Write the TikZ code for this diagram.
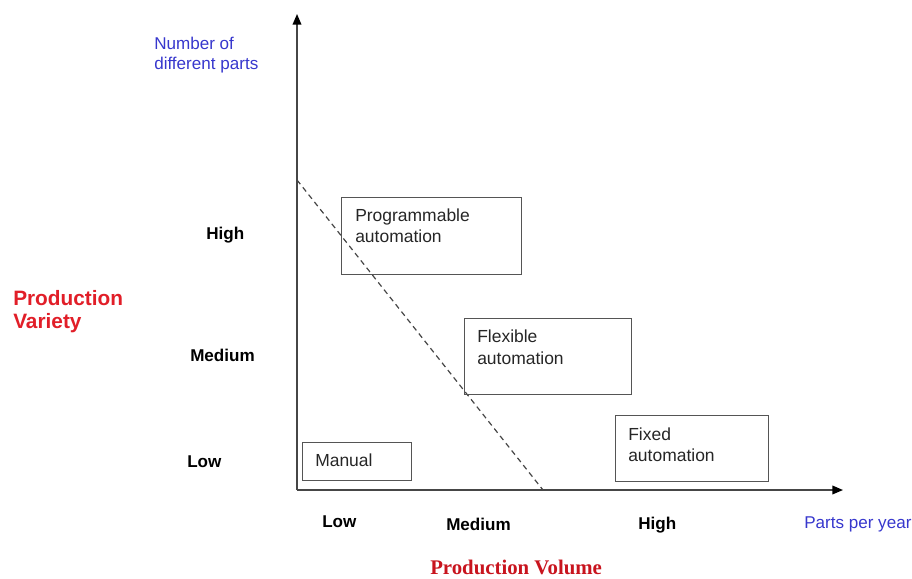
\documentclass[tikz,border=0pt]{standalone}
\usepackage{fontspec}
\setmainfont{Liberation Sans}
\newfontfamily\serifbold{Liberation Serif}
\usetikzlibrary{arrows.meta}
\definecolor{axisgray}{RGB}{70,70,70}
\definecolor{boxgray}{RGB}{85,85,85}
\definecolor{labelblue}{RGB}{55,55,205}
\definecolor{varred}{RGB}{225,30,40}
\definecolor{volred}{RGB}{200,20,30}
\tikzset{
  box/.style={draw=boxgray, line width=0.9pt, inner sep=0pt, anchor=north west},
  boxtext/.style={anchor=north west, inner sep=0pt, align=left, text=black!85,
    font=\fontsize{13.1}{16.1}\selectfont},
  levellab/.style={anchor=base west, inner sep=0pt, font=\bfseries\fontsize{12.8}{15}\selectfont},
  bluelab/.style={anchor=north west, inner sep=0pt, align=left, text=labelblue,
    font=\fontsize{12.8}{15}\selectfont},
  axisline/.style={draw=axisgray, line width=1.1pt, -{Triangle[length=8pt,width=6.5pt,color=black]}},
}
\begin{document}
\begin{tikzpicture}[x=0.75pt,y=-0.75pt]
\useasboundingbox (0,0) rectangle (912,578);
% axes
\coordinate (origin) at (297,490);
\coordinate (ytip) at (297,14);
\coordinate (xtip) at (843,490);
\draw[axisline] (origin) -- (ytip);
\draw[axisline] (origin) -- (xtip);
% dashed boundary
\coordinate (dtop) at (297,180);
\coordinate (dbot) at (543,490);
\draw[axisgray, line width=0.9pt, dash pattern=on 4pt off 3pt] (dtop) -- (dbot);
% boxes
\node[box, minimum width=135pt, minimum height=57.75pt] (prog) at (341,197) {};
\node[box, minimum width=125.25pt, minimum height=57pt] (flex) at (464,318) {};
\node[box, minimum width=114.75pt, minimum height=49.5pt] (fixed) at (615,415) {};
\node[box, minimum width=81.75pt, minimum height=28.5pt] (manual) at (302,442) {};
\node[boxtext] (progt) at (355,208.5) {Programmable\\automation};
\node[boxtext] (flext) at (477,330) {Flexible\\automation};
\node[boxtext] (fixedt) at (628,427.5) {Fixed\\automation};
\node[boxtext] (manualt) at (315,453.5) {Manual};
% y axis labels
\node[bluelab] (ylab) at (154,37) {Number of\\different parts};
\node[anchor=north west, inner sep=0pt, align=left, text=varred,
  font=\bfseries\fontsize{15.6}{17}\selectfont] (pvar) at (13,290) {Production\\Variety};
\node[levellab] (yhigh) at (206,239) {High};
\node[levellab] (ymed) at (190,361) {Medium};
\node[levellab] (ylow) at (187,467) {Low};
% x axis labels
\node[levellab] (xlow) at (322,527) {Low};
\node[levellab] (xmed) at (446,530) {Medium};
\node[levellab] (xhigh) at (638,529) {High};
\node[anchor=base west, inner sep=0pt, text=labelblue, font=\fontsize{12.8}{15}\selectfont] (ppy) at (804,528) {Parts per year};
\node[anchor=base west, inner sep=0pt, text=volred, font=\serifbold\bfseries\fontsize{15.6}{18}\selectfont] (pvol) at (430,574) {Production Volume};
\end{tikzpicture}
\end{document}
